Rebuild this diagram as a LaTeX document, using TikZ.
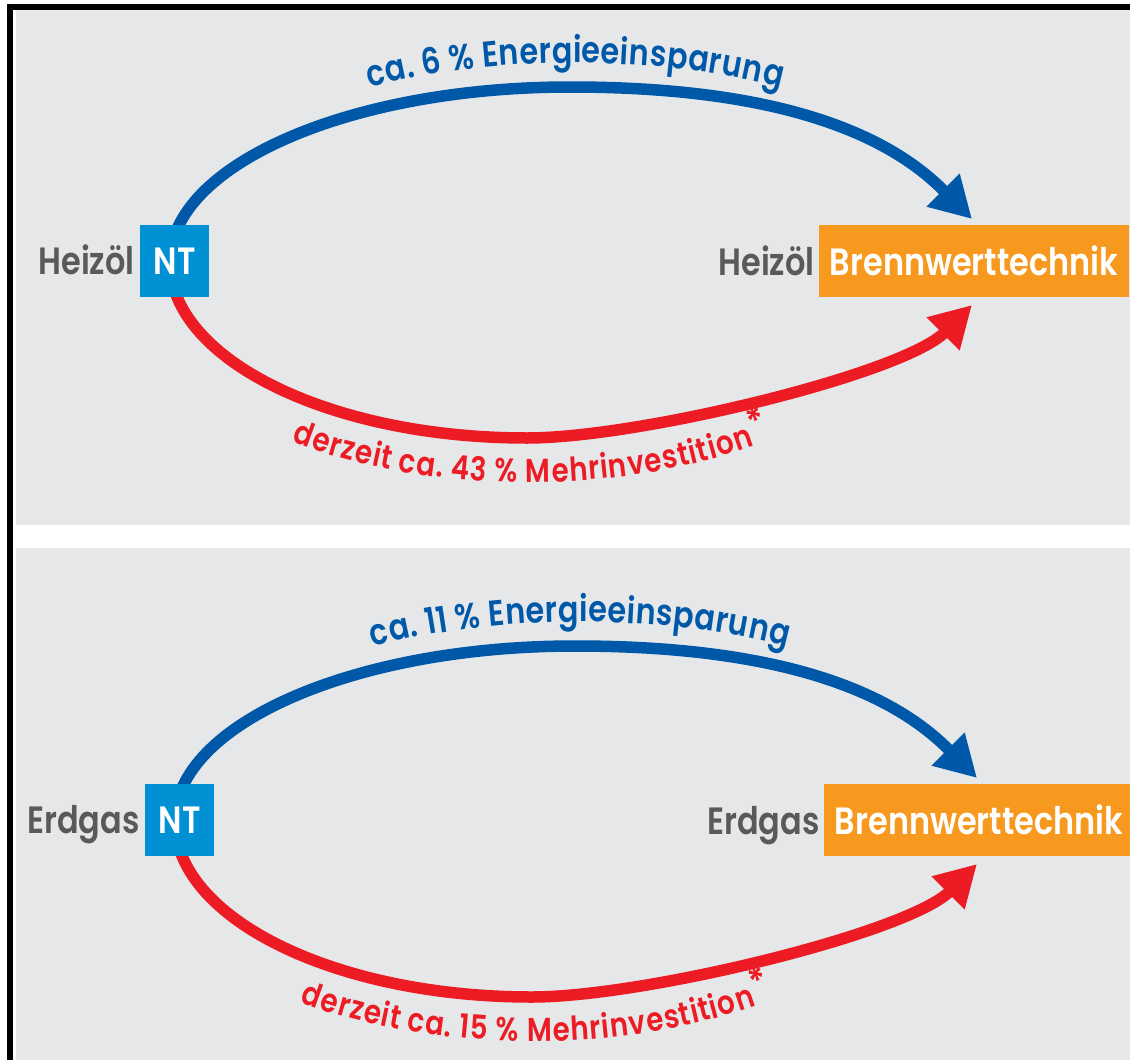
\documentclass[tikz,border=0pt]{standalone}
\usepackage{fontspec}
\usetikzlibrary{arrows.meta,decorations.text,backgrounds}
\IfFontExistsTF{Poppins SemiBold}
  {\newfontfamily\fut{Poppins SemiBold}[FakeStretch=0.84]}
  {\newfontfamily\fut{Poppins}[FakeStretch=0.86,FakeBold=1.6]}
\definecolor{panelgray}{HTML}{E6E7E9}
\definecolor{ntblue}{HTML}{0090D4}
\definecolor{bworange}{HTML}{F7991E}
\definecolor{arcblue}{HTML}{0058A8}
\definecolor{arcred}{HTML}{ED1C24}
\definecolor{fuelgray}{HTML}{58595B}
\newcommand\boxfont{\fontsize{38}{44}\fut}
\newcommand\bluefont{\fontsize{36}{42}\fut}
\newcommand\redfont{\fontsize{33}{40}\fut}
\tikzset{
  ntbox/.style={fill=ntblue, text=white, font=\boxfont, minimum width=69pt, minimum height=72pt, inner sep=0pt},
  bwbox/.style={fill=bworange, text=white, font=\boxfont, minimum width=310pt, minimum height=72pt, inner sep=0pt},
  fuel/.style={text=fuelgray, font=\boxfont, inner sep=0pt},
  arcline/.style={line width=11.5pt, -{Triangle[length=41pt,width=44pt]}},
  bluearc/.style={arcline, draw=arcblue},
  redarc/.style={arcline, draw=arcred},
}
% #1 id, #2 x shift, #3 y shift, #4 fuel, #5 blue label, #6 red label
\newcommand\drawpanel[6]{%
\begin{scope}[shift={(#2,#3)}]
  \node[ntbox] (nt#1) at (174.5,-261) {NT};
  \node[bwbox] (bw#1) at (974,-261) {Brennwerttechnik};
  \node[fuel, anchor=base east] (fa#1) at ([xshift=-5pt]nt#1.base west) {#4};
  \node[fuel, anchor=base east] (fb#1) at ([xshift=-4pt]bw#1.base west) {#4};
  \coordinate (s#1) at ([xshift=-4.5pt,yshift=-1pt]nt#1.center);
  \coordinate (be#1) at (943,-190);
  \coordinate (re#1) at (943,-334);
  \coordinate (tb#1) at ([xshift=-2pt,yshift=42pt]bw#1.center);
  \coordinate (tr#1) at ([xshift=-2pt,yshift=-44pt]bw#1.center);
  \begin{scope}[on background layer]
    \draw[bluearc] (s#1) arc[start angle=180,end angle=90,x radius=400pt,y radius=175pt]
      .. controls +(200,0) and +(-60,60) .. (be#1) -- (tb#1);
    \draw[redarc] (s#1) arc[start angle=180,end angle=270,x radius=357pt,y radius=176pt]
      .. controls +(110,0) and +(-48,-42) .. (re#1) -- (tr#1);
  \end{scope}
  \path[decorate, decoration={text along path, text={|\bluefont|#5}, text align=center,
      raise=24pt, text color=arcblue}]
    (228.6,-174.5) arc[start angle=150,end angle=30,x radius=400pt,y radius=175pt];
  \path[decorate, decoration={text along path, text={|\redfont|#6}, text align=center,
      raise=-45pt, text color=arcred}]
    (221.8,-352) arc[start angle=211,end angle=331,x radius=357pt,y radius=176pt];
\end{scope}}
\begin{document}
\begin{tikzpicture}[x=1pt,y=1pt]
  \useasboundingbox (0,0) rectangle (1130,-1060);
  \begin{scope}[on background layer]
    \fill[white] (0,0) rectangle (1130,-1060);
    \fill[black] (7,-4) rectangle (1130,-10);
    \fill[black] (7,-4) rectangle (13,-1060);
    \fill[panelgray] (16,-10) rectangle (1130,-525);
    \fill[panelgray] (16,-548) rectangle (1130,-1060);
  \end{scope}
  \drawpanel{1}{0}{0}{Heizöl}{ca. 6 {\%} Energieeinsparung}{derzeit ca. 43 {\%} Mehrinvestition{\raisebox{8pt}{\fontsize{40}{40}\selectfont*}}}
  \drawpanel{2}{5}{-559}{Erdgas}{ca. 11 {\%} Energieeinsparung}{derzeit ca. 15 {\%} Mehrinvestition{\raisebox{8pt}{\fontsize{40}{40}\selectfont*}}}
\end{tikzpicture}
\end{document}
